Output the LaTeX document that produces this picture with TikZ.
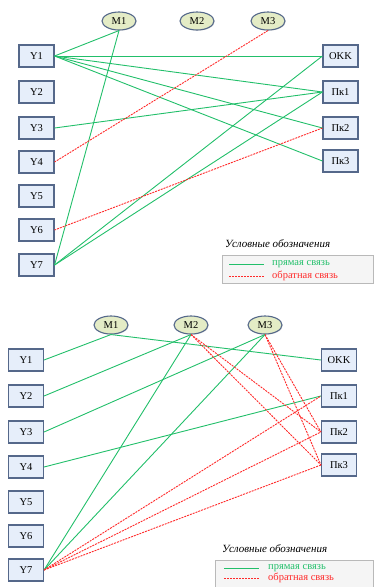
\documentclass[tikz,border=0pt]{standalone}
\usepackage{fontspec}
\setmainfont{Liberation Serif}
\usetikzlibrary{shapes.geometric,shadows}
\definecolor{lgreen}{HTML}{22BF6A}
\definecolor{lred}{HTML}{FF2A2A}
\definecolor{boxborder}{HTML}{55688A}
\definecolor{boxfill}{HTML}{E6EEFA}
\definecolor{ellfill}{HTML}{E4ECC6}
\tikzset{
  ybox/.style={draw=boxborder, line width=1.1pt, fill=boxfill, minimum width=35pt, minimum height=22pt, inner sep=0pt, font=\fontsize{10.5}{12}\selectfont, drop shadow={shadow xshift=0.9pt, shadow yshift=-0.9pt, fill=gray!60}},
  mell/.style={ellipse, draw=boxborder, line width=1.1pt, fill=ellfill, minimum width=34pt, minimum height=18pt, inner sep=0pt, font=\fontsize{10.5}{12}\selectfont, drop shadow={shadow xshift=0.7pt, shadow yshift=-0.7pt, fill=gray!50}},
  direct/.style={draw=lgreen, line width=0.9pt},
  feedback/.style={draw=lred, line width=0.9pt, dash pattern=on 2pt off 1pt},
  legbox/.style={draw=gray!55, fill=gray!8, line width=0.6pt},
  legtitle/.style={font=\fontsize{11}{13}\selectfont\itshape, anchor=west, inner sep=0pt},
  legtext/.style={font=\fontsize{10.5}{12}\selectfont, anchor=west, inner sep=0pt}
}
\begin{document}
\begin{tikzpicture}[x=1pt,y=-1pt]
\useasboundingbox (0,0) rectangle (374,587);
% ---------- top diagram ----------
\node[mell] (a-m1) at (119,21) {M1};
\node[mell] (a-m2) at (197,21) {M2};
\node[mell] (a-m3) at (268,21) {M3};
\node[ybox] (a-y1) at (36.5,56) {Y1};
\node[ybox] (a-y2) at (36.5,92) {Y2};
\node[ybox] (a-y3) at (36.5,128) {Y3};
\node[ybox] (a-y4) at (36.5,162) {Y4};
\node[ybox] (a-y5) at (36.5,196) {Y5};
\node[ybox] (a-y6) at (36.5,230) {Y6};
\node[ybox] (a-y7) at (36.5,265) {Y7};
\node[ybox] (a-okk) at (340.5,56) {OKK};
\node[ybox] (a-p1) at (340.5,92) {Пк1};
\node[ybox] (a-p2) at (340.5,128) {Пк2};
\node[ybox] (a-p3) at (340.5,161) {Пк3};
\draw[direct] (a-y1.east) -- (a-m1.south);
\draw[direct] (a-m1.south) -- (a-y7.east);
\draw[direct] (a-y1.east) -- (a-okk.west);
\draw[direct] (a-y1.east) -- (a-p1.west);
\draw[direct] (a-y1.east) -- (a-p2.west);
\draw[direct] (a-y1.east) -- (a-p3.west);
\draw[direct] (a-y3.east) -- (a-p1.west);
\draw[direct] (a-okk.west) -- (a-y7.east);
\draw[direct] (a-p1.west) -- (a-y7.east);
\draw[feedback] (a-m3.south) -- (a-y4.east);
\draw[feedback] (a-p2.west) -- (a-y6.east);
% legend top
\node[legtitle] (a-lt) at (225,244) {Условные обозначения};
\draw[legbox] (222,255) rectangle (373.5,283);
\coordinate (a-l1a) at (229,264);
\coordinate (a-l1b) at (264,264);
\coordinate (a-l2a) at (229,276);
\coordinate (a-l2b) at (264,276);
\draw[direct] (a-l1a) -- (a-l1b);
\draw[feedback] (a-l2a) -- (a-l2b);
\node[legtext, text=lgreen] (a-lg) at (272,264) {прямая связь};
\node[legtext, text=lred] (a-lr) at (272,276) {обратная связь};
% ---------- bottom diagram ----------
\node[mell] (b-m1) at (111,325) {M1};
\node[mell] (b-m2) at (191,325) {M2};
\node[mell] (b-m3) at (265,325) {M3};
\node[ybox] (b-y1) at (26,360) {Y1};
\node[ybox] (b-y2) at (26,396) {Y2};
\node[ybox] (b-y3) at (26,432) {Y3};
\node[ybox] (b-y4) at (26,467) {Y4};
\node[ybox] (b-y5) at (26,502) {Y5};
\node[ybox] (b-y6) at (26,536) {Y6};
\node[ybox] (b-y7) at (26,570) {Y7};
\node[ybox] (b-okk) at (339,360) {OKK};
\node[ybox] (b-p1) at (339,396) {Пк1};
\node[ybox] (b-p2) at (339,432) {Пк2};
\node[ybox] (b-p3) at (339,465) {Пк3};
\draw[direct] (b-y1.east) -- (b-m1.south);
\draw[direct] (b-m1.south) -- (b-okk.west);
\draw[direct] (b-y2.east) -- (b-m2.south);
\draw[direct] (b-y3.east) -- (b-m3.south);
\draw[direct] (b-y4.east) -- (b-p1.west);
\draw[direct] (b-m2.south) -- (b-y7.east);
\draw[direct] (b-m3.south) -- (b-y7.east);
\draw[feedback] (b-m2.south) -- (b-p2.west);
\draw[feedback] (b-m2.south) -- (b-p3.west);
\draw[feedback] (b-m3.south) -- (b-p2.west);
\draw[feedback] (b-m3.south) -- (b-p3.west);
\draw[feedback] (b-y7.east) -- (b-p1.west);
\draw[feedback] (b-y7.east) -- (b-p2.west);
\draw[feedback] (b-y7.east) -- (b-p3.west);
% legend bottom
\node[legtitle] (b-lt) at (222,549) {Условные обозначения};
\draw[legbox] (215,560) rectangle (373.5,592);
\coordinate (b-l1a) at (224,568);
\coordinate (b-l1b) at (259,568);
\coordinate (b-l2a) at (224,578);
\coordinate (b-l2b) at (259,578);
\draw[direct] (b-l1a) -- (b-l1b);
\draw[feedback] (b-l2a) -- (b-l2b);
\node[legtext, text=lgreen] (b-lg) at (268,568) {прямая связь};
\node[legtext, text=lred] (b-lr) at (268,578) {обратная связь};
\end{tikzpicture}
\end{document}
